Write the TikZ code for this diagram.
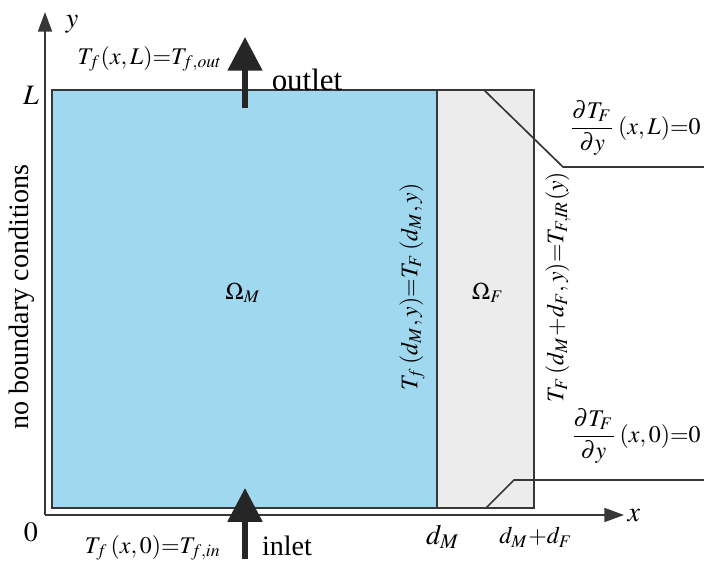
\documentclass[tikz,border=0pt]{standalone}
\usepackage{amsmath}
\usepackage{mathptmx}
\usepackage{fontspec}
\setmainfont{Liberation Serif}
\usetikzlibrary{arrows.meta}
\definecolor{fluidblue}{RGB}{160,216,240}
\definecolor{fingrey}{RGB}{236,236,236}
\definecolor{edgegrey}{RGB}{55,55,55}

\begin{document}
\begin{tikzpicture}[x=0.0125cm, y=-0.0125cm, font=\fontsize{10}{12}\selectfont,
		eq/.style={font=\fontsize{8.5}{10}\selectfont},
		axis/.style={edgegrey, line width=0.6pt, -{Triangle[width=5pt,length=7pt]}},
		flow/.style={black!85, line width=2.1pt, -{Triangle[width=12pt,length=12pt]}},
		leader/.style={edgegrey, line width=0.6pt},
		wall/.style={edgegrey, line width=0.7pt}]

		\useasboundingbox (0,0) rectangle (704,565);

		% domains
		\fill[fluidblue](52,90) rectangle (437,508);
		\fill[fingrey](437,90) rectangle (534,508);
		\draw[wall](52,90) rectangle (534,508);
		\draw[wall](437,90) -- (437,508);

		% axes
		\coordinate (o) at (45,515);
		\coordinate (ytip) at (45,12);
		\coordinate (xtip) at (624,515);
		\draw[axis](o) -- (ytip);
		\draw[axis](o) -- (xtip);

		% inlet and outlet
		\coordinate (outS) at (245,108);
		\coordinate (outT) at (245,37);
		\coordinate (inS) at (245,559);
		\coordinate (inT) at (245,488);
		\draw[flow](outS) -- (outT);
		\draw[flow](inS) -- (inT);

		\node (ylab) at(72,24){$y$};
		\node (Llab) at(31,95){$L$};
		\node (zero) at(31,532){$0$};
		\node (xlab) at(634,516){$x$};
		\node (dM) at(443,537){$d_M$};
		\node[eq] (dMF) at(536,537){$d_M{+}d_F$};

		\node[eq] (outbc) at(150,59){$T_f(x,L){=}T_{f,out}$};
		\node[font=\fontsize{11}{13}\selectfont] (outlet) at(307,80){outlet};
		\node[eq] (inbc) at(153,548){$T_f\,(x,0){=}T_{f,in}$};
		\node (inlet) at(287,546){inlet};

		\node[eq] (omM) at(243,293){$\Omega_M$};
		\node[eq] (omF) at(488,293){$\Omega_F$};

		\node[eq, rotate=90] (ifc) at(412,287){$T_f\,(d_M,y){=}T_F\,(d_M,y)$};
		\node[eq, rotate=90] (rbc) at(558,287){$T_F\,(d_M{+}d_F,y){=}T_{F,I\!R}(y)$};
		\node[rotate=90] (nobc) at(22,297){no boundary conditions};

		\node[eq, anchor=east, inner sep=1pt] (topbc) at(704,128){$\dfrac{\partial T_F}{\partial y}\,(x,L){=}0$};
		\node[eq, anchor=east, inner sep=1pt] (botbc) at(704,436){$\dfrac{\partial T_F}{\partial y}\,(x,0){=}0$};

		% leaders
		\coordinate (tl1) at(484,90);
		\coordinate (tl2) at(563,167);
		\coordinate (tl3) at(704,167);
		\draw[leader](tl1) -- (tl2) -- (tl3);
		\coordinate (bl1) at(486,508);
		\coordinate (bl2) at(514,480);
		\coordinate (bl3) at(704,480);
		\draw[leader](bl1) -- (bl2) -- (bl3);

	\end{tikzpicture}
\end{document}
